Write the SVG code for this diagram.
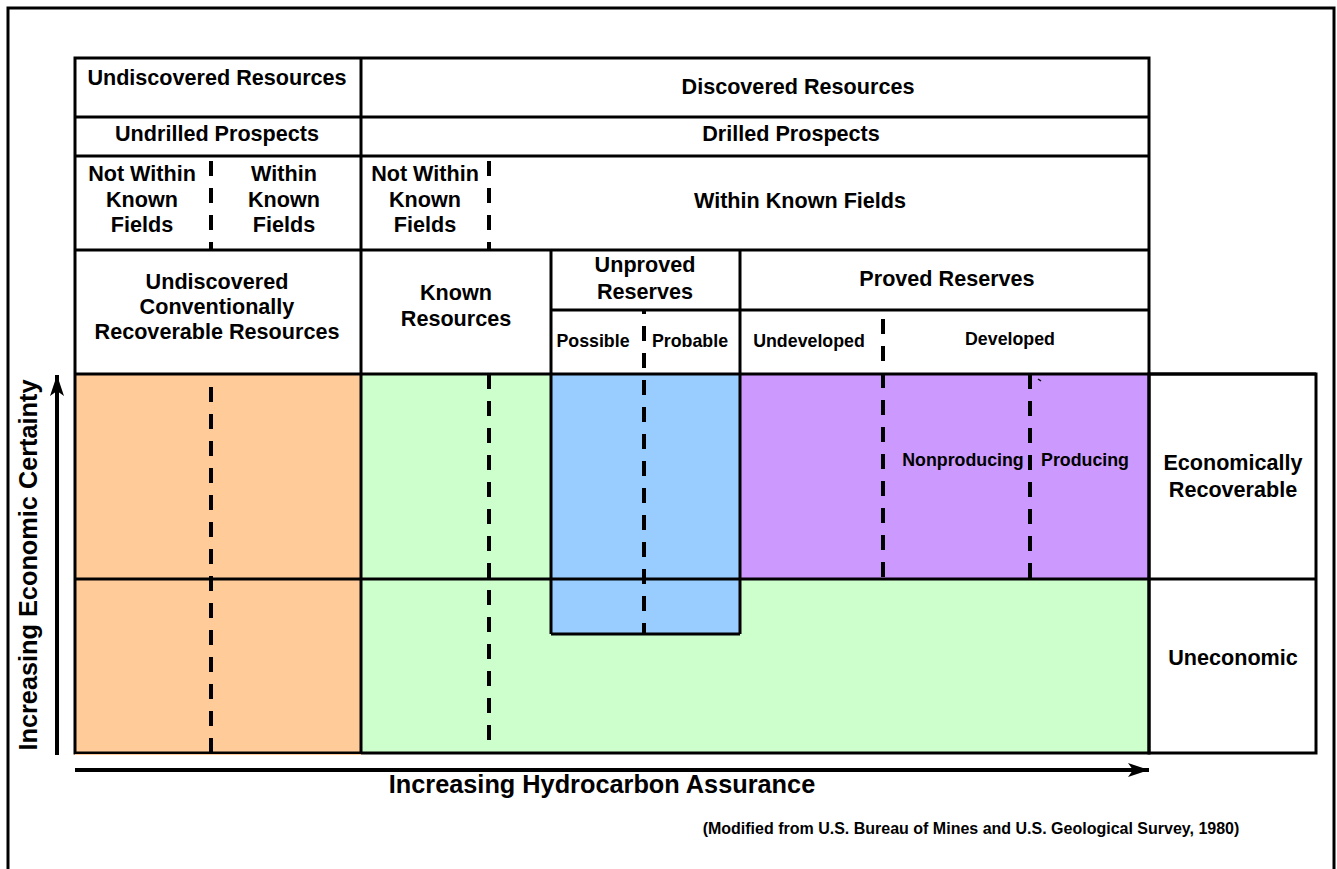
<svg xmlns="http://www.w3.org/2000/svg" width="1337" height="869" viewBox="0 0 1337 869">
<style>
text{font-family:"Liberation Sans",Arial,Helvetica,sans-serif;font-weight:bold;fill:#000;text-anchor:middle}
.t{font-size:21.6px}
.s{font-size:17.8px}
.ax{font-size:25.3px}
.c{font-size:16px}
.ln{stroke:#000;stroke-width:3;fill:none}
.d{stroke:#000;stroke-width:4;fill:none;stroke-dasharray:15 12}
</style>
<defs>
<marker id="ah" markerWidth="22" markerHeight="14" refX="21" refY="7" orient="auto" markerUnits="userSpaceOnUse">
<path d="M0,0 L21,7 L0,14 L5,7 Z" fill="#000"/>
</marker>
</defs>
<rect x="0" y="0" width="1337" height="869" fill="#fff"/>
<rect id="frame" x="8" y="8" width="1326" height="880" fill="none" stroke="#000" stroke-width="3"/>

<g id="body-fills">
<rect id="undiscovered-body" x="75" y="374" width="286" height="380" fill="#FFCC99"/>
<rect id="known-body" x="361" y="374" width="788" height="379" fill="#CCFFCC"/>
<rect id="unproved-body" x="551" y="374" width="189" height="260" fill="#99CCFF"/>
<rect id="proved-body" x="740" y="374" width="409" height="205" fill="#CC99FF"/>
</g>

<g id="table-lines">
<rect x="75" y="58" width="1074" height="695" class="ln"/>
<line x1="75" y1="117" x2="1149" y2="117" class="ln"/>
<line x1="75" y1="156" x2="1149" y2="156" class="ln"/>
<line x1="75" y1="250" x2="1149" y2="250" class="ln"/>
<line x1="551" y1="310" x2="1149" y2="310" class="ln"/>
<line x1="75" y1="374" x2="1316" y2="374" class="ln"/>
<line x1="75" y1="579" x2="1316" y2="579" class="ln"/>
<line x1="361" y1="58" x2="361" y2="753" class="ln"/>
<line x1="551" y1="250" x2="551" y2="634" class="ln"/>
<line x1="740" y1="250" x2="740" y2="634" class="ln"/>
<line x1="551" y1="634" x2="740" y2="634" class="ln"/>
<rect x="1149" y="374" width="167" height="379" class="ln"/>
<line x1="75" y1="754.5" x2="361" y2="754.5" stroke="#FFCC99" stroke-width="1"/>
</g>

<g id="dashed-dividers">
<line x1="211" y1="157" x2="211" y2="249" class="d" stroke-dashoffset="-4"/>
<line x1="211" y1="374" x2="211" y2="753" class="d" stroke-dashoffset="-13"/>
<line x1="489" y1="157" x2="489" y2="249" class="d" stroke-dashoffset="-4"/>
<line x1="489" y1="374" x2="489" y2="753" class="d"/>
<line x1="644" y1="311" x2="644" y2="634" class="d" stroke-dashoffset="-15"/>
<line x1="883" y1="308" x2="883" y2="579" class="d" stroke-dashoffset="-11"/>
<line x1="1030" y1="374" x2="1030" y2="579" class="d"/>
<line x1="1038" y1="379" x2="1041" y2="381" stroke="#000" stroke-width="1.5"/>
</g>

<g id="n-undiscovered-resources"><text class="t" x="217" y="85">Undiscovered Resources</text></g>
<g id="n-discovered-resources"><text class="t" x="798" y="94">Discovered Resources</text></g>
<g id="n-undrilled-prospects"><text class="t" x="217" y="141">Undrilled Prospects</text></g>
<g id="n-drilled-prospects"><text class="t" x="791" y="141">Drilled Prospects</text></g>
<g id="n-undrilled-not-within"><text class="t" x="142" y="181">Not Within</text><text class="t" x="142" y="207">Known</text><text class="t" x="142" y="232">Fields</text></g>
<g id="n-undrilled-within"><text class="t" x="284" y="181">Within</text><text class="t" x="284" y="207">Known</text><text class="t" x="284" y="232">Fields</text></g>
<g id="n-drilled-not-within"><text class="t" x="425" y="181">Not Within</text><text class="t" x="425" y="207">Known</text><text class="t" x="425" y="232">Fields</text></g>
<g id="n-drilled-within"><text class="t" x="800" y="208">Within Known Fields</text></g>
<g id="n-undiscovered-conventional"><text class="t" x="217" y="289">Undiscovered</text><text class="t" x="217" y="314">Conventionally</text><text class="t" x="217" y="339">Recoverable Resources</text></g>
<g id="n-known-resources"><text class="t" x="456" y="300">Known</text><text class="t" x="456" y="326">Resources</text></g>
<g id="n-unproved-reserves"><text class="t" x="645" y="272">Unproved</text><text class="t" x="645" y="299">Reserves</text></g>
<g id="n-proved-reserves"><text class="t" x="947" y="286">Proved Reserves</text></g>
<g id="n-possible"><text class="s" x="593" y="347">Possible</text></g>
<g id="n-probable"><text class="s" x="690" y="347">Probable</text></g>
<g id="n-undeveloped"><text class="s" x="809" y="347">Undeveloped</text></g>
<g id="n-developed"><text class="s" x="1010" y="345">Developed</text></g>
<g id="n-nonproducing"><text class="s" x="963" y="466">Nonproducing</text></g>
<g id="n-producing"><text class="s" x="1085" y="466">Producing</text></g>
<g id="n-economically-recoverable"><text class="t" x="1233" y="470">Economically</text><text class="t" x="1233" y="497">Recoverable</text></g>
<g id="n-uneconomic"><text class="t" x="1233" y="665">Uneconomic</text></g>

<g id="connectors">
<line x1="57" y1="755" x2="57" y2="375" stroke="#000" stroke-width="4" marker-end="url(#ah)"/>
<line x1="75" y1="770" x2="1149" y2="770" stroke="#000" stroke-width="4" marker-end="url(#ah)"/>
</g>

<g id="axis-labels">
<text class="ax" transform="translate(37,565) rotate(-90)">Increasing Economic Certainty</text>
<text class="ax" x="602" y="793">Increasing Hydrocarbon Assurance</text>
<text class="c" x="971" y="834">(Modified from U.S. Bureau of Mines and U.S. Geological Survey, 1980)</text>
</g>
</svg>
